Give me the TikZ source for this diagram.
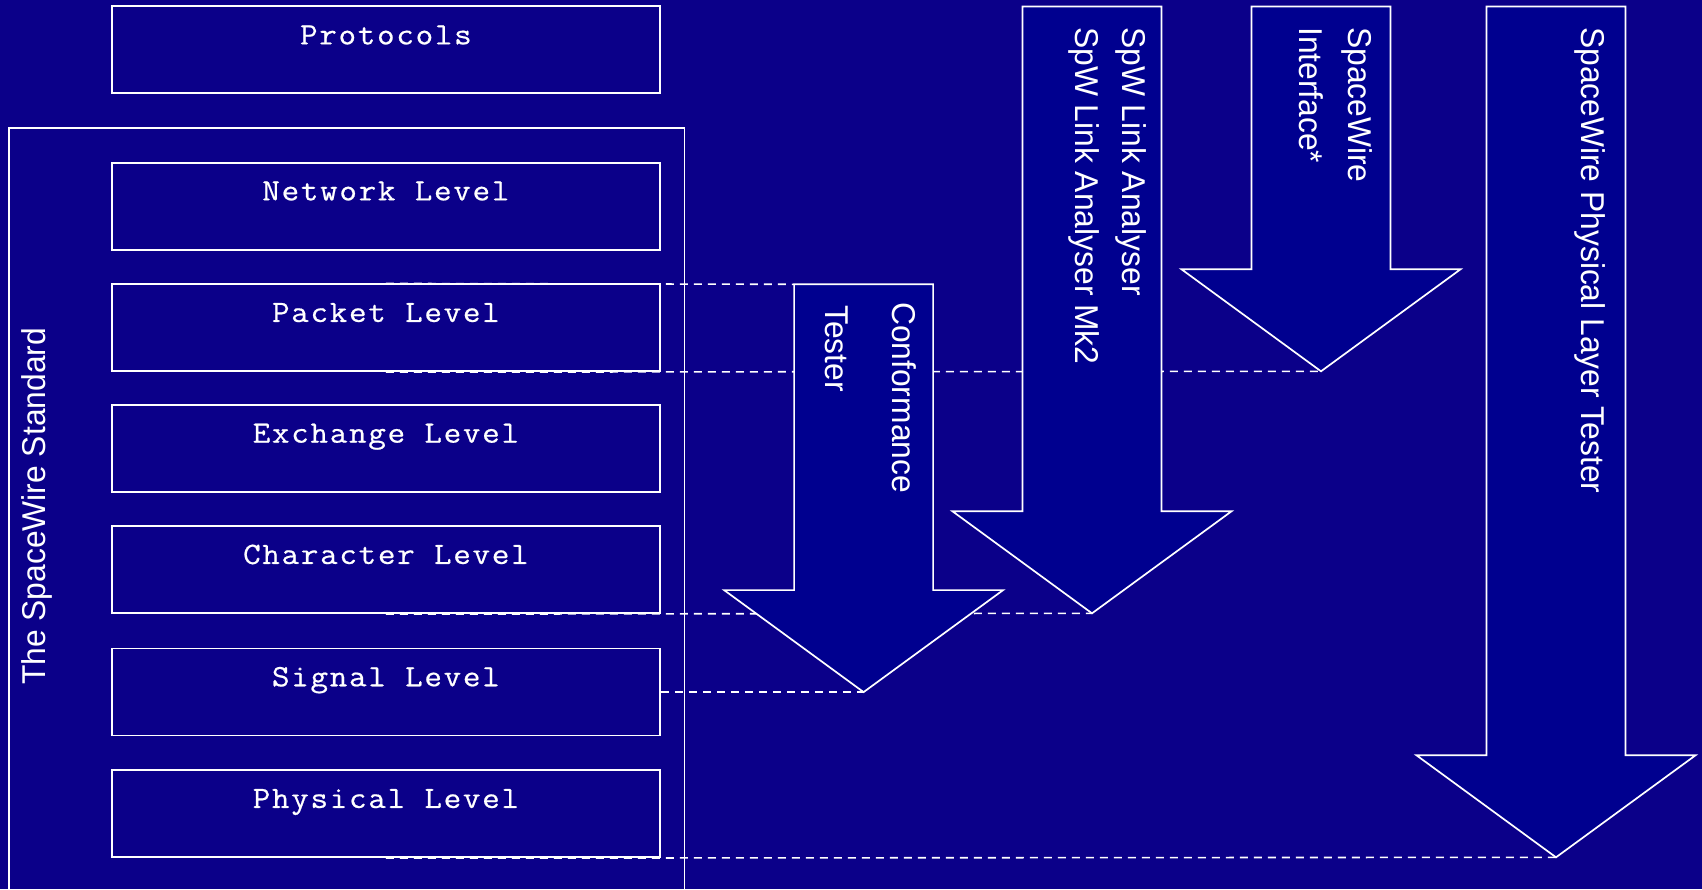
\documentclass[tikz,border=0pt]{standalone}
\usepackage{fontspec}
\newfontfamily\arialf[FakeStretch=0.963]{Liberation Sans}
\newfontfamily\courf[FakeStretch=1.1,LetterSpace=5.5,FakeBold=0.6]{Latin Modern Mono}
\definecolor{bgblue}{RGB}{11,0,137}
\definecolor{arrfill}{RGB}{0,0,143}
\newcommand\downarrowshape[3]{%
  \draw[bigarrow] ({#1-69.5},#2) -- ({#1+69.5},#2) -- ({#1+69.5},{#3-102}) -- ({#1+139.5},{#3-102})
    -- (#1,#3) -- ({#1-139.5},{#3-102}) -- ({#1-69.5},{#3-102}) -- cycle;}
\begin{document}
\begin{tikzpicture}[x=1pt,y=-1pt,
  lvlbox/.style={draw=white, line width=1.7pt, minimum width=548pt, minimum height=87pt, inner sep=0pt},
  lvltext/.style={text=white, font=\courf\fontsize{31}{36}\selectfont, anchor=base, inner sep=0pt},
  dashln/.style={draw=white, line width=1.6pt, dash pattern=on 8pt off 6pt},
  bigarrow/.style={draw=white, fill=arrfill, line width=1.7pt, line join=miter},
  arrtext/.style={text=white, font=\arialf\fontsize{33}{40}\selectfont, rotate=-90, anchor=base west, inner sep=0pt}]
\useasboundingbox (0,0) rectangle (1702,889);
\fill[bgblue] (0,0) rectangle (1702,889);
\clip (0,0) rectangle (1702,889);

% outer standard box
\draw[white, line width=1.7pt] (8.7,900) -- (8.7,128) -- (684.5,128) -- (684.5,900);
\node[text=white, font=\arialf\fontsize{33}{40}\selectfont, rotate=90, anchor=base west, inner sep=0pt] (std) at (45,685) {The SpaceWire Standard};

% level boxes
\node[lvlbox] (prot) at (385.9,49.5) {};
\node[lvlbox] (net) at (385.9,206.2) {};
\node[lvlbox] (packet) at (385.9,327.8) {};
\node[lvlbox] (exch) at (385.9,448.2) {};
\node[lvlbox] (char) at (385.9,569.8) {};
\node[lvlbox] (signal) at (385.9,692.1) {};
\node[lvlbox] (phys) at (385.9,813.8) {};

\node[lvltext] (protT) at ([yshift=-39.2pt]prot.north) {Protocols};
\node[lvltext] (netT) at ([yshift=-38.5pt]net.north) {Network Level};
\node[lvltext] (packetT) at ([yshift=-38.5pt]packet.north) {Packet Level};
\node[lvltext] (exchT) at ([yshift=-38.8pt]exch.north) {Exchange Level};
\node[lvltext] (charT) at ([yshift=-38.5pt]char.north) {Character Level};
\node[lvltext] (signalT) at ([yshift=-38.5pt]signal.north) {Signal Level};
\node[lvltext] (physT) at ([yshift=-38.5pt]phys.north) {Physical Level};

% arrow reference points
\coordinate (ctTopL) at (794.1,284.3);
\coordinate (ctTip) at (863.6,692.1);
\coordinate (laTip) at (1092,613.3);
\coordinate (ifTip) at (1321,371.3);
\coordinate (phTip) at (1556,857.3);

% dashed guide lines
\draw[dashln] (packet.north) -- (ctTopL);
\draw[dashln] (packet.south) -- (ifTip);
\draw[dashln] (char.south) -- (laTip);
\draw[dashln] (signal.east) -- (ctTip);
\draw[dashln] (phys.south) -- (phTip);

% block arrows
\downarrowshape{863.6}{284.3}{692.1}
\downarrowshape{1092}{6.5}{613.3}
\downarrowshape{1321}{6.5}{371.3}
\downarrowshape{1556}{6.5}{857.3}

% arrow labels
\node[arrtext] (ct1) at (892,302) {Conformance};
\node[arrtext] (ct2) at (825,305) {Tester};
\node[arrtext] (la1) at (1122,27) {SpW Link Analyser};
\node[arrtext] (la2) at (1075,27) {SpW Link Analyser Mk2};
\node[arrtext] (if1) at (1348,27) {SpaceWire};
\node[arrtext] (if2) at (1299.5,27) {Interface*};
\node[arrtext] (ph1) at (1581.7,27) {SpaceWire Physical Layer Tester};
\end{tikzpicture}
\end{document}
